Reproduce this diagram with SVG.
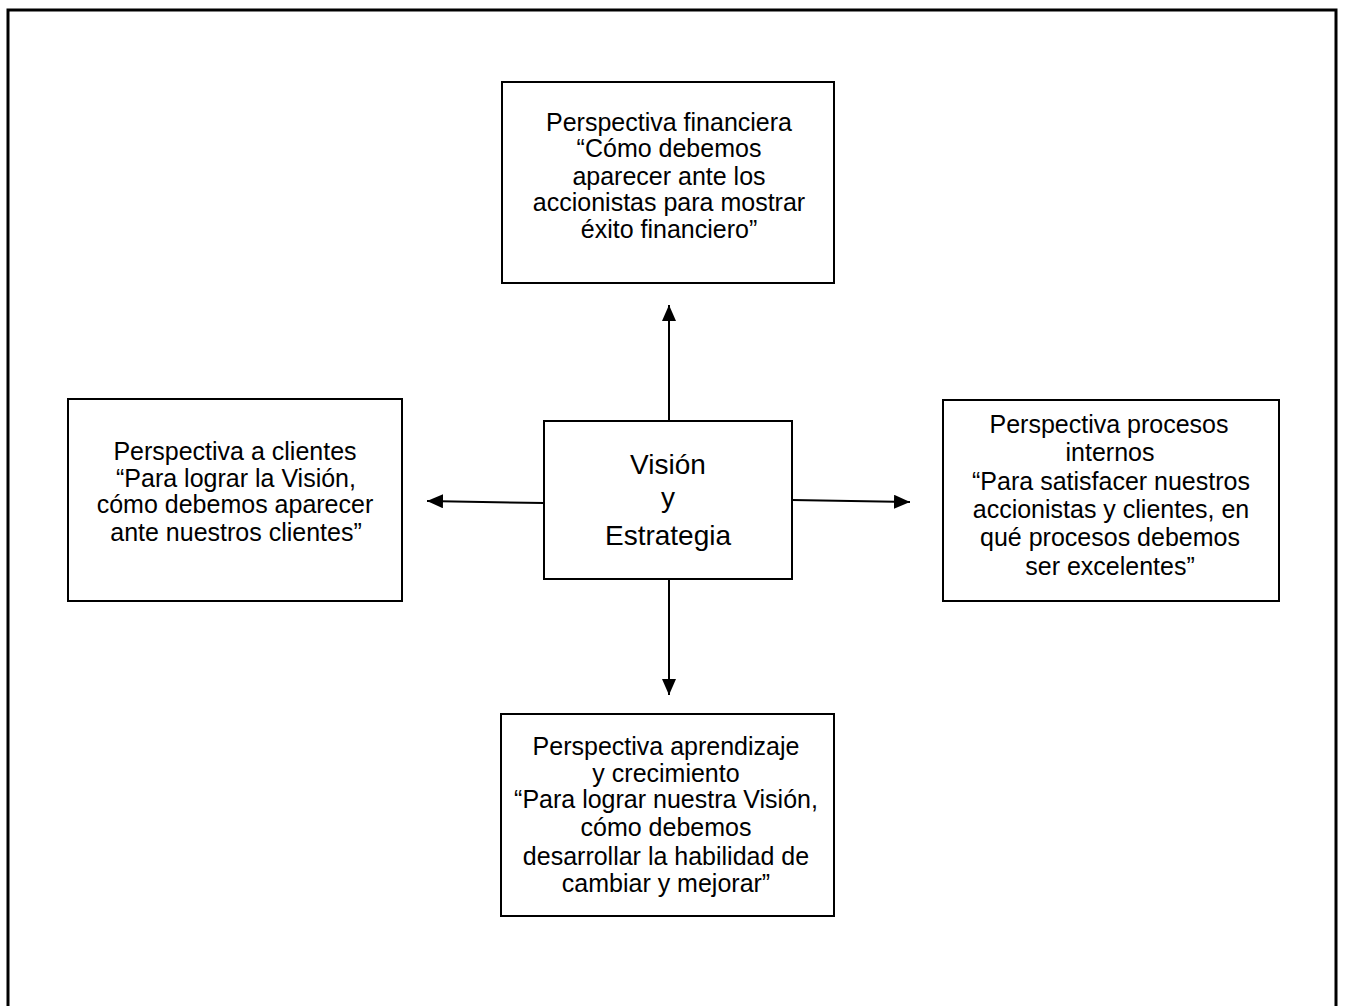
<svg xmlns="http://www.w3.org/2000/svg" width="1346" height="1006" viewBox="0 0 1346 1006">
  <style>
    .box { fill: #ffffff; stroke: #000000; stroke-width: 2; }
    .frame { fill: none; stroke: #000000; stroke-width: 3; }
    .link { fill: none; stroke: #000000; stroke-width: 2; }
    text { font-family: "Liberation Sans", Arial, sans-serif; font-size: 25px; fill: #000000; text-anchor: middle; }
    .big { font-size: 28px; }
  </style>
  <defs>
    <marker id="arrow" viewBox="0 0 16 14" refX="16" refY="7" markerWidth="16" markerHeight="14" markerUnits="userSpaceOnUse" orient="auto">
      <path d="M0,0 L16,7 L0,14 Z" fill="#000000"/>
    </marker>
  </defs>
  <rect width="1346" height="1006" fill="#ffffff"/>
  <!-- page frame, open at the bottom -->
  <path class="frame" d="M8,1006 V10 H1336 V1006"/>

  <g id="connectors">
    <line class="link" x1="669" y1="421" x2="669" y2="305" marker-end="url(#arrow)"/>
    <line class="link" x1="669" y1="579" x2="669" y2="695" marker-end="url(#arrow)"/>
    <line class="link" x1="544" y1="503" x2="427" y2="501" marker-end="url(#arrow)"/>
    <line class="link" x1="792" y1="500" x2="910" y2="502" marker-end="url(#arrow)"/>
  </g>

  <g id="financiera">
    <rect class="box" x="502" y="82" width="332" height="201"/>
    <text x="669" y="131">Perspectiva financiera</text>
    <text x="669" y="157">“Cómo debemos</text>
    <text x="669" y="185">aparecer ante los</text>
    <text x="669" y="211">accionistas para mostrar</text>
    <text x="669" y="238">éxito financiero”</text>
  </g>

  <g id="vision">
    <rect class="box" x="544" y="421" width="248" height="158"/>
    <text class="big" x="668" y="474">Visión</text>
    <text class="big" x="668" y="507">y</text>
    <text class="big" x="668" y="545">Estrategia</text>
  </g>

  <g id="clientes">
    <rect class="box" x="68" y="399" width="334" height="202"/>
    <text x="235" y="460">Perspectiva a clientes</text>
    <text x="236" y="487">“Para lograr la Visión,</text>
    <text x="235" y="513">cómo debemos aparecer</text>
    <text x="236" y="541">ante nuestros clientes”</text>
  </g>

  <g id="procesos">
    <rect class="box" x="943" y="400" width="336" height="201"/>
    <text x="1109" y="433">Perspectiva procesos</text>
    <text x="1110" y="461">internos</text>
    <text x="1111" y="490">“Para satisfacer nuestros</text>
    <text x="1111" y="518">accionistas y clientes, en</text>
    <text x="1110" y="546">qué procesos debemos</text>
    <text x="1110" y="575">ser excelentes”</text>
  </g>

  <g id="aprendizaje">
    <rect class="box" x="501" y="714" width="333" height="202"/>
    <text x="666" y="755">Perspectiva aprendizaje</text>
    <text x="666" y="782">y crecimiento</text>
    <text x="666" y="808">“Para lograr nuestra Visión,</text>
    <text x="666" y="836">cómo debemos</text>
    <text x="666" y="865">desarrollar la habilidad de</text>
    <text x="666" y="892">cambiar y mejorar”</text>
  </g>
</svg>
